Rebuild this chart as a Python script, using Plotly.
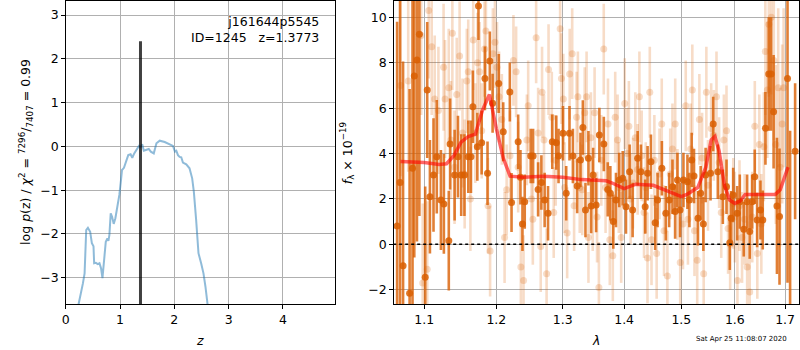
import math
import plotly.graph_objects as go

# ---------------- left panel: log p(z) ----------------
pz_z = [0.20, 0.238, 0.317, 0.348, 0.378, 0.409, 0.451, 0.482, 0.512, 0.524, 0.555, 0.591, 0.622,
        0.652, 0.677, 0.707, 0.738, 0.768, 0.787, 0.805, 0.829, 0.854, 0.884, 0.915, 0.951, 0.988,
        1.018, 1.037, 1.073, 1.110, 1.152, 1.195, 1.226, 1.262, 1.305, 1.348, 1.378, 1.409, 1.439,
        1.488, 1.530, 1.567, 1.622, 1.671, 1.732, 1.823, 1.915, 1.976, 2.012, 2.037, 2.067, 2.098,
        2.128, 2.159, 2.220, 2.280, 2.329, 2.360, 2.402, 2.445, 2.494, 2.537, 2.573, 2.616, 2.66]
pz_logp = [-4.3, -3.60, -3.13, -2.90, -1.91, -1.86, -1.95, -2.21, -2.28, -2.67, -2.66, -2.69, -2.67,
           -2.79, -3.01, -2.52, -2.18, -2.10, -2.16, -2.02, -1.53, -1.61, -1.77, -1.64, -1.38, -1.11,
           -0.77, -0.54, -0.49, -0.35, -0.20, -0.18, -0.26, -0.16, -0.07, 0.01, -0.02, 0.05, -0.10,
           -0.08, -0.06, -0.12, -0.16, 0.07, 0.13, 0.10, 0.05, 0.01, -0.12, -0.10, -0.20, -0.24,
           -0.25, -0.37, -0.41, -0.50, -0.73, -1.04, -1.68, -2.44, -2.67, -2.90, -3.20, -3.60, -4.1]
z_best = 1.3773
z_line_y = [-3.6, 2.4]
field_name = "j161644p5545"
obj_id = 1245
chi2_num, chi2_den, chi2_ratio = 7296, 7407, 0.99
timestamp = "Sat Apr 25 11:08:07 2020"

# ---------------- right panel: spectrum ----------------
dark_wave = [1.0646, 1.0684, 1.0723, 1.0808, 1.0846, 1.0869, 1.0904, 1.0936, 1.1013, 1.1040,
             1.1076, 1.1124, 1.1168, 1.1224, 1.1264, 1.1331, 1.1349, 1.1411, 1.1457, 1.1502,
             1.1547, 1.1601, 1.1638, 1.1665, 1.1728, 1.1744, 1.1789, 1.1836, 1.1873, 1.1906,
             1.1946, 1.2035, 1.2100, 1.2197, 1.2222, 1.2320, 1.2354, 1.2384, 1.2418, 1.2508,
             1.2544, 1.2620, 1.2670, 1.2720, 1.2772, 1.2838, 1.2900, 1.2935, 1.3004, 1.3055,
             1.3107, 1.3161, 1.3229, 1.3282, 1.3320, 1.3362, 1.3410, 1.3454, 1.3486, 1.3535,
             1.3588, 1.3661, 1.3726, 1.3769, 1.3818, 1.3863, 1.3918, 1.3976, 1.4031, 1.4093,
             1.4144, 1.4230, 1.4286, 1.4360, 1.4402, 1.4460, 1.4534, 1.4576, 1.4652, 1.4722,
             1.4781, 1.4841, 1.4888, 1.4930, 1.4977, 1.5038, 1.5111, 1.5147, 1.5189, 1.5231,
             1.5304, 1.5354, 1.5404, 1.5446, 1.5538, 1.5588, 1.5675, 1.5770, 1.5840, 1.5903,
             1.5929, 1.5968, 1.6046, 1.6096, 1.6173, 1.6239, 1.6290, 1.6337, 1.6389, 1.6436,
             1.6502, 1.6548, 1.6602, 1.6668, 1.6715, 1.6766, 1.6834, 1.6886, 1.7050, 1.7103,
             1.7207]
dark_flux = [0.81, 2.72, -0.95, -2.16, 3.35, 7.42, 8.12, 9.25, -1.45, 6.80,
             2.10, 3.05, 3.86, 1.95, 1.78, 0.16, 4.42, 3.05, 3.86, 3.05,
             3.05, 3.86, 3.86, 6.06, 4.30, 10.5, 4.48, 7.31, 3.13, 8.08,
             6.21, 7.09, 4.96, 6.71, 1.84, 4.52, 2.95, 0.90, 1.88, 3.89,
             3.89, 2.42, 2.72, 1.95, 1.37, 4.52, 4.48, 3.89, 4.89, 2.25,
             4.89, 3.89, 2.57, 3.72, 5.15, 1.51, 3.79, 1.69, 3.05, 1.73,
             4.82, 4.42, 2.42, 2.25, 1.00, 1.95, 2.83, 2.91, 1.66, 3.20,
             1.51, 3.79, 3.20, 1.66, 3.13, 3.64, 0.95, 1.95, 3.35, 1.37,
             1.95, 2.54, 1.44, 2.83, 1.51, 2.83, 2.76, 1.95, 3.72, 3.01,
             1.15, 2.25, 0.90, 3.05, 3.13, 5.30, 3.20, 2.10, 2.54, 0.07,
             1.15, 2.17, 1.37, 1.88, 0.66, 1.88, 0.56, 1.88, 2.98, 1.07,
             1.51, 1.07, 5.11, 7.50, 7.50, 5.84, 1.69, 1.22, 7.31, -4.0,
             4.10]
dark_err = [9.0, 9.0, 9.0, 9.0, 8.0, 8.0, 8.0, 8.0, 4.0, 3.0,
            2.5, 2.5, 2.5, 2.2, 2.2, 2.2, 2.0, 2.0, 1.8, 1.8,
            1.8, 1.6, 1.6, 1.6, 1.5, 1.5, 1.4, 1.4, 1.4, 1.3,
            1.3, 1.3, 1.3, 1.3, 1.3, 1.2, 1.2, 1.2, 1.2, 1.2,
            1.2, 1.2, 1.2, 1.2, 1.2, 1.2, 1.2, 1.2, 1.2, 1.2,
            1.2, 1.2, 1.2, 1.2, 1.2, 1.2, 1.2, 1.2, 1.2, 1.2,
            1.2, 1.2, 1.2, 1.2, 1.2, 1.2, 1.2, 1.2, 1.2, 1.2,
            1.2, 1.2, 1.2, 1.2, 1.2, 1.2, 1.2, 1.2, 1.2, 1.2,
            1.2, 1.2, 1.2, 1.2, 1.2, 1.2, 1.2, 1.2, 1.2, 1.2,
            1.2, 1.2, 1.2, 1.2, 1.2, 1.2, 1.2, 1.2, 1.2, 1.2,
            1.2, 1.2, 1.2, 1.2, 1.2, 1.2, 1.2, 1.2, 1.2, 1.2,
            1.3, 1.3, 1.6, 2.5, 2.5, 2.5, 3.0, 3.0, 9.0, 9.0,
            3.0]

light_wave = [1.069, 1.079, 1.096, 1.098, 1.104, 1.106, 1.110, 1.114, 1.119, 1.126,
              1.128, 1.133, 1.136, 1.138, 1.141, 1.144, 1.148, 1.152, 1.155, 1.158,
              1.160, 1.163, 1.167, 1.170, 1.173, 1.176, 1.179, 1.183, 1.185, 1.188,
              1.191, 1.195, 1.198, 1.201, 1.204, 1.208, 1.212, 1.215, 1.220, 1.225,
              1.229, 1.232, 1.236, 1.240, 1.245, 1.247, 1.252, 1.254, 1.259, 1.262,
              1.266, 1.268, 1.271, 1.275, 1.278, 1.283, 1.286, 1.289, 1.296, 1.298,
              1.301, 1.303, 1.307, 1.311, 1.315, 1.318, 1.322, 1.324, 1.327, 1.331,
              1.335, 1.338, 1.341, 1.345, 1.348, 1.351, 1.355, 1.358, 1.362, 1.366,
              1.369, 1.373, 1.376, 1.381, 1.385, 1.389, 1.391, 1.395, 1.401, 1.405,
              1.408, 1.411, 1.415, 1.419, 1.423, 1.426, 1.430, 1.434, 1.437, 1.440,
              1.444, 1.447, 1.452, 1.456, 1.461, 1.465, 1.469, 1.475, 1.480, 1.484,
              1.489, 1.493, 1.498, 1.503, 1.508, 1.512, 1.517, 1.520, 1.524, 1.529,
              1.533, 1.538, 1.541, 1.546, 1.549, 1.555, 1.560, 1.565, 1.570, 1.574,
              1.579, 1.584, 1.587, 1.591, 1.597, 1.600, 1.605, 1.609, 1.614, 1.619,
              1.624, 1.629, 1.634, 1.639, 1.644, 1.648, 1.652, 1.657, 1.660, 1.664,
              1.667, 1.672, 1.677, 1.681, 1.686, 1.690, 1.694, 1.697]
light_flux = [7.0, 7.2, 9.2, -1.7, -1.1, 10.3, 8.7, 6.4, 5.9, 7.8,
              6.4, 6.9, 4.6, 9.3, 3.4, 6.6, 8.3, 4.9, 3.1, 7.2,
              7.6, 2.0, 9.0, 4.9, 8.0, 7.6, 5.0, 8.6, 9.4, 1.7,
              -0.3, 8.4, 8.9, 7.8, 6.5, 5.5, 0.3, 2.4, 3.9, 8.1,
              7.6, 3.4, -1.0, -1.6, 4.6, 6.1, 2.0, 1.1, 9.1, 4.9,
              -0.1, 6.7, 4.6, -1.3, 7.7, 5.6, 1.4, 3.7, 9.5, 7.3,
              6.4, 2.5, 0.5, 7.5, 8.4, 1.7, 5.6, 6.5, 2.5, 2.4,
              5.8, 6.5, 0.3, 4.7, 1.7, 5.8, 1.2, -1.9, 3.7, 8.6,
              2.5, 5.3, 0.2, -0.5, 5.6, 4.6, 2.5, 0.3, 6.2, 4.0,
              5.2, 2.0, 2.7, 4.7, 3.3, 6.5, 3.9, 1.4, 2.5, -0.6,
              6.7, 0.2, 3.7, -0.4, 3.1, 5.3, 0.6, -1.4, 3.1, 4.2,
              5.3, 2.2, -0.8, 0.9, 6.1, 1.1, 4.2, 6.8, 0.6, -0.7,
              5.5, 3.8, -1.3, 6.7, 2.6, 5.1, 4.8, 6.5, 3.6, 1.4,
              4.6, 5.0, 0.7, 0.0, 1.8, 1.2, -1.6, 1.7, 0.3, 1.1,
              -1.0, -2.1, 1.2, 5.2, -0.4, 4.4, 0.9, 4.3, 8.5, 6.8,
              9.7, 10.0, 8.1, 4.4, 6.9, 3.4, 5.3, 6.9]
light_err = [4.0, 4.0, 3.5, 3.5, 3.0, 3.0, 3.0, 2.8, 2.8, 2.8,
             2.6, 2.6, 2.6, 2.5, 2.5, 2.5, 2.4, 2.4, 2.4, 2.3,
             2.3, 2.3, 2.2, 2.2, 2.2, 2.2, 2.1, 2.1, 2.1, 2.1,
             2.0, 2.0, 2.0, 2.0, 2.0, 2.0, 2.0, 2.0, 2.0, 2.0,
             2.0, 2.0, 2.0, 2.0, 2.0, 2.0, 2.0, 2.0, 2.0, 2.0,
             2.0, 2.0, 2.0, 2.0, 2.0, 2.0, 2.0, 2.0, 2.0, 2.0,
             2.0, 2.0, 2.0, 2.0, 2.0, 2.0, 2.0, 2.0, 2.0, 2.0,
             2.0, 2.0, 2.0, 2.0, 2.0, 2.0, 2.0, 2.0, 2.0, 2.0,
             2.0, 2.0, 2.0, 2.0, 2.0, 2.0, 2.0, 2.0, 2.0, 2.0,
             2.0, 2.0, 2.0, 2.0, 2.0, 2.0, 2.0, 2.0, 2.0, 2.0,
             2.0, 2.0, 2.0, 2.0, 2.0, 2.0, 2.0, 2.0, 2.0, 2.0,
             2.0, 2.0, 2.0, 2.0, 2.0, 2.0, 2.0, 2.0, 2.0, 2.0,
             2.0, 2.0, 2.0, 2.0, 2.0, 2.0, 2.0, 2.0, 2.0, 2.0,
             2.0, 2.0, 2.0, 2.0, 2.0, 2.0, 2.0, 2.0, 2.0, 2.0,
             2.0, 2.0, 2.0, 2.0, 2.0, 2.2, 2.2, 2.4, 2.8, 3.0,
             3.2, 3.4, 3.5, 3.5, 3.5, 3.5, 3.5, 3.5]

model_wave = [1.069, 1.100, 1.120, 1.130, 1.140, 1.150, 1.160, 1.170, 1.180, 1.190,
              1.200, 1.210, 1.220, 1.240, 1.270, 1.300, 1.330, 1.370, 1.380, 1.400,
              1.420, 1.450, 1.480, 1.500, 1.510, 1.530, 1.545, 1.555, 1.562, 1.570,
              1.580, 1.590, 1.600, 1.610, 1.620, 1.650, 1.680, 1.690, 1.700, 1.706]
model_flux = [3.65, 3.60, 3.52, 3.55, 3.90, 4.50, 4.75, 4.85, 5.90, 6.60,
              5.10, 3.80, 3.00, 2.95, 3.00, 2.95, 2.85, 2.80, 2.70, 2.45,
              2.65, 2.60, 2.30, 2.10, 2.20, 2.50, 3.40, 4.60, 4.75, 4.10,
              2.60, 1.95, 1.80, 1.90, 2.20, 2.20, 2.20, 2.40, 3.00, 3.40]
zero_wave = [1.0, 1.8]
zero_flux = [0.0, 0.0]

x_ticks_left = [0, 1, 2, 3, 4]
y_ticks_left = [-3, -2, -1, 0, 1, 2, 3]
x_ticks_right = [1.1, 1.2, 1.3, 1.4, 1.5, 1.6, 1.7]
y_ticks_right = [-2, 0, 2, 4, 6, 8, 10]

FONT = "DejaVu Sans"
FS = 12.5
W, H = 800, 350
y_dom = [1 - 304 / H, 1 - 1 / H]

fig = go.Figure()

# left traces
fig.add_trace(go.Scatter(x=pz_z, y=pz_logp, mode="lines",
                         line=dict(color="rgba(31,119,180,0.5)", width=2),
                         xaxis="x", yaxis="y", showlegend=False, hoverinfo="skip"))
fig.add_trace(go.Scatter(x=[z_best, z_best], y=z_line_y, mode="lines",
                         line=dict(color="rgba(0,0,0,0.75)", width=3),
                         xaxis="x", yaxis="y", showlegend=False, hoverinfo="skip"))

# right traces
orange = (217, 95, 2)
fig.add_trace(go.Scatter(x=light_wave, y=light_flux, mode="markers",
                         marker=dict(color="rgba(%d,%d,%d,0.22)" % orange, size=7),
                         error_y=dict(type="data", array=light_err, width=0, thickness=2.6,
                                      color="rgba(%d,%d,%d,0.22)" % orange),
                         xaxis="x2", yaxis="y2", showlegend=False, hoverinfo="skip"))
fig.add_trace(go.Scatter(x=dark_wave, y=dark_flux, mode="markers",
                         marker=dict(color="rgba(%d,%d,%d,0.85)" % orange, size=7),
                         error_y=dict(type="data", array=dark_err, width=0, thickness=2.6,
                                      color="rgba(%d,%d,%d,0.8)" % orange),
                         xaxis="x2", yaxis="y2", showlegend=False, hoverinfo="skip"))
fig.add_trace(go.Scatter(x=model_wave, y=model_flux, mode="lines",
                         line=dict(color="rgba(255,0,0,0.6)", width=3.5),
                         xaxis="x2", yaxis="y2", showlegend=False, hoverinfo="skip"))
fig.add_trace(go.Scatter(x=zero_wave, y=zero_flux, mode="lines",
                         line=dict(color="black", width=1.6, dash="dot"),
                         xaxis="x2", yaxis="y2", showlegend=False, hoverinfo="skip"))

axis_common = dict(showline=True, mirror=True, linecolor="black", linewidth=1,
                   ticks="outside", ticklen=3.5, tickwidth=0.8, tickcolor="black",
                   showgrid=True, gridcolor="#b0b0b0", gridwidth=0.8, zeroline=False,
                   tickfont=dict(family=FONT, size=FS, color="black"))

fig.update_layout(
    width=W, height=H, margin=dict(l=0, r=0, t=0, b=0),
    paper_bgcolor="white", plot_bgcolor="white", showlegend=False,
    font=dict(family=FONT, size=FS, color="black"),
    xaxis=dict(domain=[62 / W, 333 / W], range=[0, 4.965], tickmode="array",
               tickvals=x_ticks_left, anchor="y", **axis_common),
    yaxis=dict(domain=y_dom, range=[-3.6, 3.32], tickmode="array",
               tickvals=y_ticks_left, anchor="x", **axis_common),
    xaxis2=dict(domain=[391.7 / W, 799.3 / W], type="log",
                range=[math.log10(1.0603), math.log10(1.7294)], tickmode="array",
                tickvals=x_ticks_right, ticktext=[str(v) for v in x_ticks_right],
                anchor="y2", **axis_common),
    yaxis2=dict(domain=y_dom, range=[-2.63, 10.72], tickmode="array",
                tickvals=y_ticks_right, anchor="x2", **axis_common),
)

ann = []
ann.append(dict(text=field_name + "<br>ID=%d   z=%.4f" % (obj_id, z_best),
                xref="paper", yref="paper", x=319 / W, y=1 - 12 / H,
                xanchor="right", yanchor="top", align="right", showarrow=False,
                font=dict(family=FONT, size=FS)))
ann.append(dict(text="log <i>p</i>(z) / <i>χ</i><sup>2</sup> = <sup>%d</sup>/<sub>%d</sub> = %.2f"
                % (chi2_num, chi2_den, chi2_ratio),
                xref="paper", yref="paper", x=22 / W, y=1 - 152 / H, textangle=-90,
                xanchor="center", yanchor="middle", showarrow=False,
                font=dict(family=FONT, size=FS)))
ann.append(dict(text="<i>f</i><sub>λ</sub> × 10<sup>−19</sup>",
                xref="paper", yref="paper", x=345 / W, y=1 - 153 / H, textangle=-90,
                xanchor="center", yanchor="middle", showarrow=False,
                font=dict(family=FONT, size=FS)))
ann.append(dict(text="<i>z</i>", xref="paper", yref="paper", x=197 / W, y=1 - 340 / H,
                xanchor="center", yanchor="middle", showarrow=False,
                font=dict(family=FONT, size=FS)))
ann.append(dict(text="<i>λ</i>", xref="paper", yref="paper", x=595 / W, y=1 - 340 / H,
                xanchor="center", yanchor="middle", showarrow=False,
                font=dict(family=FONT, size=FS)))
ann.append(dict(text=timestamp, xref="paper", yref="paper", x=788.7 / W, y=1 - 339 / H,
                xanchor="right", yanchor="middle", showarrow=False,
                font=dict(family=FONT, size=7)))
fig.update_layout(annotations=ann)

fig.write_html("out.html", config={"displayModeBar": False},
               post_script="document.body.style.margin='0';document.body.style.overflow='hidden';")
